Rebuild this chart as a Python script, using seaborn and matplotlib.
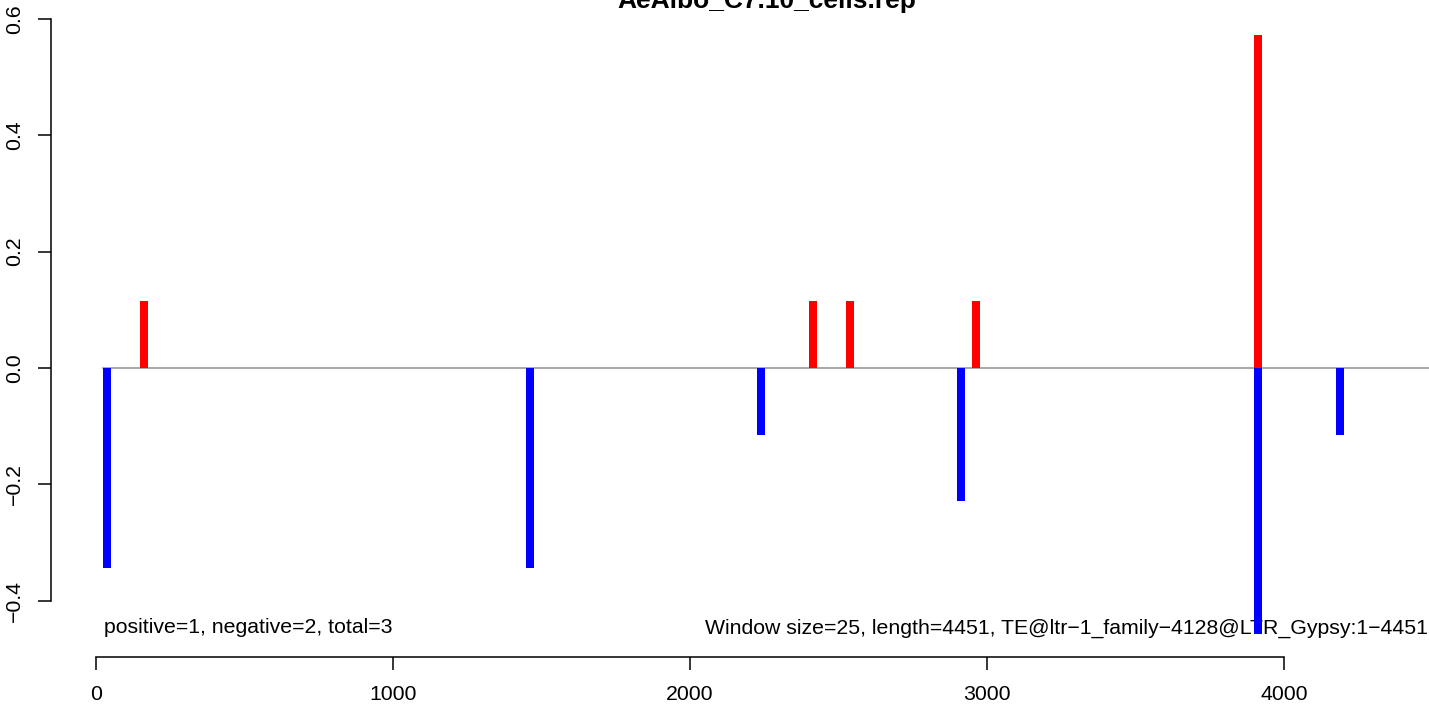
import matplotlib
matplotlib.use("Agg")
import matplotlib.pyplot as plt
import seaborn as sns
import pandas as pd

# ---- data ----
title = "AeAlbo_C7.10_cells.rep"
pos_x = [162.5, 2412.5, 2537.5, 2962.5, 3912.5]
pos_y = [0.1143, 0.1143, 0.1143, 0.1143, 0.5714]
neg_x = [37.5, 1462.5, 2237.5, 2912.5, 3912.5, 4187.5]
neg_y = [-0.3429, -0.3429, -0.1143, -0.2286, -0.4571, -0.1143]
x_ticks = [0, 1000, 2000, 3000, 4000]
x_labels = ["0", "1000", "2000", "3000", "4000"]
y_ticks = [-0.4, -0.2, 0.0, 0.2, 0.4, 0.6]
y_labels = ["\u22120.4", "\u22120.2", "0.0", "0.2", "0.4", "0.6"]
left_note = "positive=1, negative=2, total=3"
right_note = "Window size=25, length=4451, TE@ltr\u22121_family\u22124128@LTR_Gypsy:1\u22124451"
seq_start, seq_end = 25, 4700

df = pd.DataFrame({
    "pos": pos_x + neg_x,
    "value": pos_y + neg_y,
    "strand": ["positive"] * len(pos_x) + ["negative"] * len(neg_x),
})

sns.set_theme(style="white")
plt.rcParams["font.family"] = ["Liberation Sans", "DejaVu Sans"]

FS = 15.3
W, H = 1429, 704
fig = plt.figure(figsize=(W / 100, H / 100), dpi=100)
ax = fig.add_axes([51 / W, (H - 657) / H, (1483 - 51) / W, 644 / H])

# zero line
ax.plot([seq_start, seq_end], [0, 0], color="#a9a9a9", lw=1.5, zorder=1)

ax.text(27, -0.4466, left_note, ha="left", va="center", fontsize=FS,
        color="black", zorder=1.5)
ax.text(4486, -0.4466, right_note, ha="right", va="center", fontsize=FS,
        color="black", zorder=1.5)

sns.barplot(data=df, x="pos", y="value", hue="strand", native_scale=True,
            palette={"positive": "#ff0000", "negative": "#0000ff"},
            dodge=False, width=0.54, linewidth=0, saturation=1,
            errorbar=None, legend=False, ax=ax, zorder=2)

ax.set_xlim(-151.5, 4670)
ax.set_ylim(-0.4966, 0.6100)

for s in ["top", "right"]:
    ax.spines[s].set_visible(False)
ax.spines["left"].set_bounds(-0.4, 0.6)
ax.spines["bottom"].set_bounds(0, 4000)
for s in ["left", "bottom"]:
    ax.spines[s].set_color("black")
    ax.spines[s].set_linewidth(1.1)

ax.set_xticks(x_ticks, x_labels)
ax.set_yticks(y_ticks, y_labels)
ax.tick_params(axis="both", which="major", direction="out", length=9.4, width=1.1,
               color="black", labelsize=FS, labelcolor="black",
               bottom=True, left=True)
ax.tick_params(axis="x", pad=11)
ax.tick_params(axis="y", pad=10)
for lab in ax.get_yticklabels():
    lab.set_rotation(90)
    lab.set_va("center")
ax.set_xlabel("")
ax.set_ylabel("")
ax.grid(False)

fig.text(767 / W, 1 - 8 / H, title, ha="center", va="baseline",
         fontsize=19, fontweight="bold", color="black")

fig.savefig("out.png", dpi=100, facecolor="white")
